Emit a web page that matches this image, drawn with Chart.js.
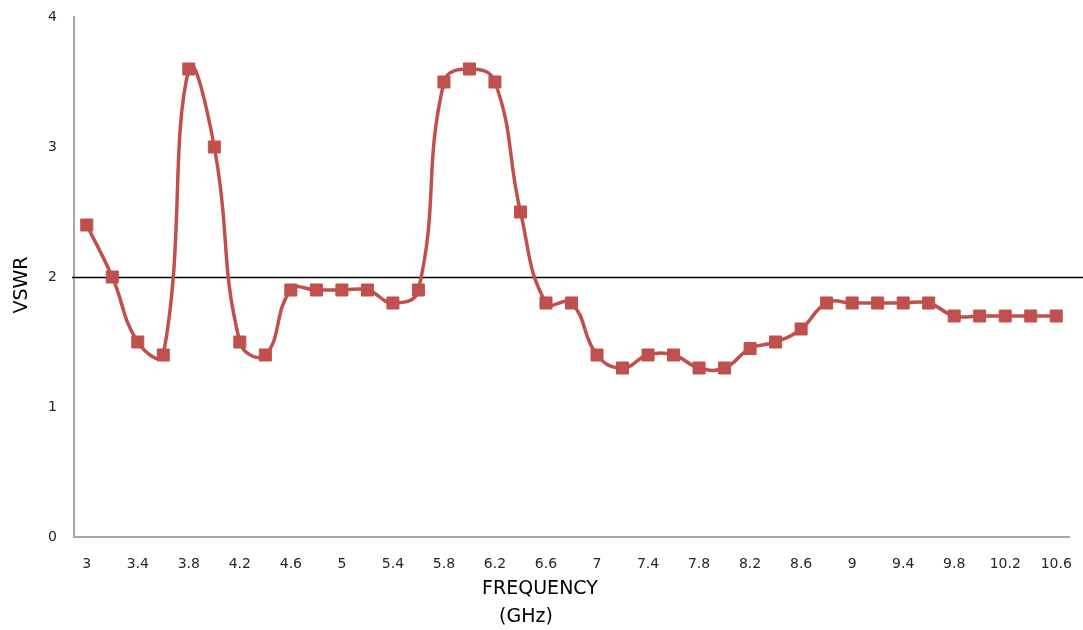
<!DOCTYPE html>
<html>
<head>
<meta charset="utf-8">
<script src="https://cdn.jsdelivr.net/npm/chart.js@4.4.0/dist/chart.umd.min.js"></script>
<style>
  html, body { margin: 0; padding: 0; background: #fff; }
  #contenedor { width: 1083px; height: 630px; position: relative; }
</style>
</head>
<body>
<div id="contenedor"><canvas id="chartVswr"></canvas></div>
<script>
// Frecuencias (GHz) del eje X
const frecuencias = ['3', '3.2', '3.4', '3.6', '3.8', '4', '4.2', '4.4', '4.6', '4.8',
    '5', '5.2', '5.4', '5.6', '5.8', '6', '6.2', '6.4', '6.6', '6.8',
    '7', '7.2', '7.4', '7.6', '7.8', '8', '8.2', '8.4', '8.6', '8.8',
    '9', '9.2', '9.4', '9.6', '9.8', '10', '10.2', '10.4', '10.6'];

// VSWR
const vswr = [2.4, 2.0, 1.5, 1.4, 3.6, 3.0, 1.5, 1.4, 1.9, 1.9,
    1.9, 1.9, 1.8, 1.9, 3.5, 3.6, 3.5, 2.5, 1.8, 1.8,
    1.4, 1.3, 1.4, 1.4, 1.3, 1.3, 1.45, 1.5, 1.6, 1.8,
    1.8, 1.8, 1.8, 1.8, 1.7, 1.7, 1.7, 1.7, 1.7];

// Limite VSWR = 2 (linea horizontal negra)
const limiteVswr = 2;

// Rango del eje Y
const ejeY = { min: 0, max: 4, paso: 1 };

const tituloX = ['FREQUENCY', '(GHz)'];
const tituloY = 'VSWR';

const colorSerie = '#C0504D';
const colorEje = '#a6a6a6';
const colorTexto = '#262626';

// Linea de limite y titulos de los ejes
const pluginExtras = {
    id: 'extras',
    beforeDatasetsDraw(chart) {
        const ctx = chart.ctx;
        const y = Math.round(chart.scales.y.getPixelForValue(limiteVswr)) + 0.5;
        ctx.save();
        ctx.strokeStyle = '#000';
        ctx.lineWidth = 1.5;
        ctx.beginPath();
        ctx.moveTo(chart.chartArea.left - 2, y);
        ctx.lineTo(chart.width, y);
        ctx.stroke();
        ctx.restore();
    },
    afterDraw(chart) {
        const ctx = chart.ctx;
        const area = chart.chartArea;
        ctx.save();
        ctx.fillStyle = '#000';
        ctx.font = '19px "DejaVu Sans"';
        ctx.textAlign = 'center';
        ctx.textBaseline = 'middle';
        ctx.fillText(tituloX[0], area.left + 466, area.bottom + 52);
        ctx.fillText(tituloX[1], area.left + 452, area.bottom + 80);
        ctx.translate(22, (area.top + area.bottom) / 2 + 8);
        ctx.rotate(-Math.PI / 2);
        ctx.fillText(tituloY, 0, 0);
        ctx.restore();
    }
};

function crearGraficaVswr() {
    const ctx = document.getElementById('chartVswr').getContext('2d');

    new Chart(ctx, {
        type: 'line',
        data: {
            labels: frecuencias,
            datasets: [{
                label: 'VSWR',
                data: vswr,
                borderColor: colorSerie,
                backgroundColor: colorSerie,
                borderWidth: 3.5,
                tension: 0.45,
                pointStyle: 'rect',
                pointRadius: 8.5,
                pointBorderWidth: 1,
                pointBackgroundColor: colorSerie,
                pointBorderColor: colorSerie
            }]
        },
        options: {
            responsive: true,
            maintainAspectRatio: false,
            animation: false,
            layout: {
                padding: { top: 17, right: 14, left: 0, bottom: 0 }
            },
            plugins: {
                legend: { display: false },
                tooltip: { enabled: false }
            },
            scales: {
                x: {
                    type: 'category',
                    offset: true,
                    grid: { display: false, drawTicks: false },
                    border: { display: true, color: colorEje, width: 2 },
                    ticks: {
                        autoSkip: false,
                        maxRotation: 0,
                        padding: 19,
                        color: colorTexto,
                        font: { family: 'DejaVu Sans', size: 14 },
                        callback: function(value, index) {
                            return index % 2 === 0 ? frecuencias[index] : '';
                        }
                    },
                    afterFit: function(scale) {
                        scale.height = 93;
                        scale.paddingLeft = 0;
                        scale.paddingRight = 0;
                    }
                },
                y: {
                    min: ejeY.min,
                    max: ejeY.max,
                    grid: { display: false, drawTicks: false },
                    border: { display: true, color: colorEje, width: 2 },
                    ticks: {
                        stepSize: ejeY.paso,
                        padding: 17,
                        color: colorTexto,
                        font: { family: 'DejaVu Sans', size: 14 }
                    },
                    afterFit: function(scale) {
                        scale.width = 74;
                        scale.paddingTop = 0;
                        scale.paddingBottom = 0;
                    }
                }
            }
        },
        plugins: [pluginExtras]
    });
}

document.addEventListener('DOMContentLoaded', function() {
    crearGraficaVswr();
});
</script>
</body>
</html>
